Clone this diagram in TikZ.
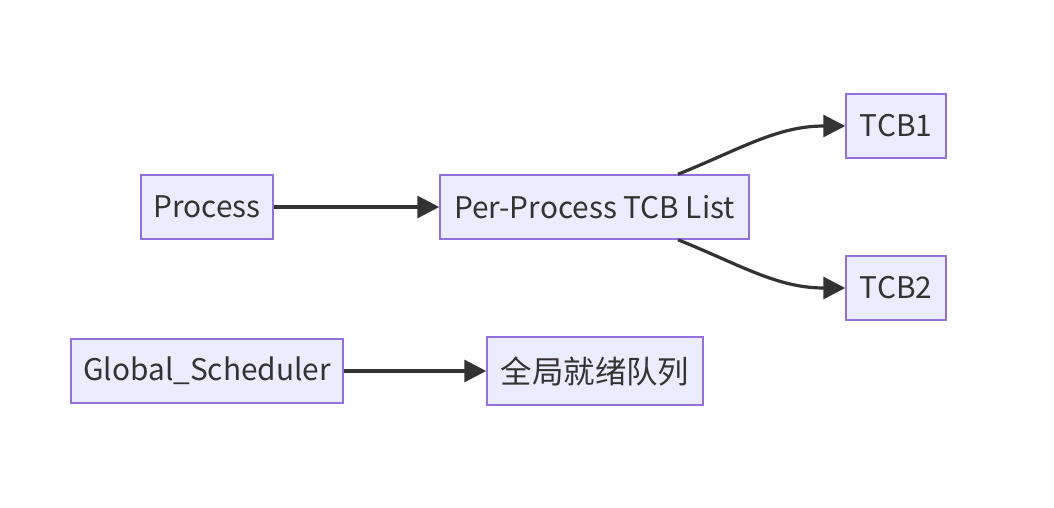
\documentclass[tikz,border=0pt]{standalone}
\usepackage{fontspec}
\setmainfont{Noto Sans CJK SC}
\usepackage{tikz}
\usetikzlibrary{arrows.meta}
\usetikzlibrary{positioning}
\definecolor{boxfill}{HTML}{ECECFF}
\definecolor{boxline}{HTML}{9370DB}
\definecolor{linkgray}{HTML}{333333}
\tikzset{
    arrow/.style={-{Triangle[length=22pt,width=22pt]}, line width=3.2pt, draw=linkgray},
    box/.style = {
      rectangle,
      draw=boxline,
      line width=1.5pt,
      fill=boxfill,
      text=linkgray,
      minimum height=64pt,
      inner sep=0pt,
      font=\fontsize{29.8}{34}\selectfont
    },
}
\begin{document}
\begin{tikzpicture}[x=1pt, y=-1pt]
      \useasboundingbox (0,0) rectangle (1054,507);
      \node [box, minimum width=132pt] (process) at (207,207) {Process};
      \node [box, minimum width=309pt] (tcblist) at (594.5,207) {Per-Process TCB List};
      \node [box, minimum width=100pt] (tcb1) at (896,126) {TCB1};
      \node [box, minimum width=100pt] (tcb2) at (896,288) {TCB2};
      \node [box, minimum width=272pt] (sched) at (207,371) {Global\_Scheduler};
      \node [box, minimum width=216pt, minimum height=68pt,
             font=\fontsize{31.4}{36}\selectfont] (readyq) at (595,371) {全局就绪队列};

      \draw [arrow] (process) -- (tcblist);
      \draw [arrow] (sched) -- (readyq);
      \draw [arrow] ([xshift=83.5pt]tcblist.north) to[out=22, in=180] (tcb1.west);
      \draw [arrow] ([xshift=83.5pt]tcblist.south) to[out=-22, in=180] (tcb2.west);
\end{tikzpicture}
\end{document}
